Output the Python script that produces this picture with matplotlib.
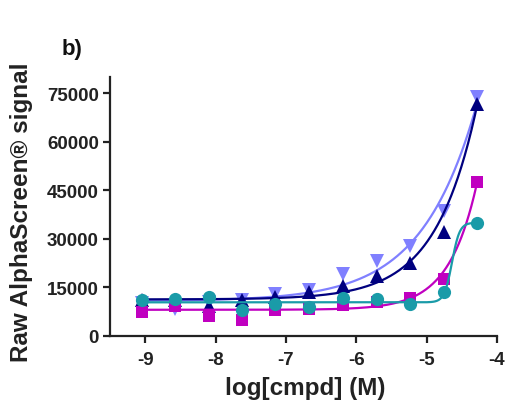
import numpy as np
import matplotlib
matplotlib.use("Agg")
import matplotlib.pyplot as plt

plt.rcParams['font.family'] = ['Liberation Sans', 'DejaVu Sans']
plt.rcParams['font.weight'] = 'bold'

# log10 concentration (M)
log_conc = [-9.05, -8.58, -8.10, -7.62, -7.15, -6.67, -6.19, -5.71, -5.24, -4.76, -4.28]

# Raw AlphaScreen signal per compound series
sig_lightblue = [10200, 8300, 10500, 11000, 12900, 14300, 19100, 23200, 27900, 38700, 73800]
sig_navy = [11200, 11000, 9400, 11200, 11900, 13700, 15500, 18400, 22700, 32000, 71600]
sig_magenta = [7300, 9400, 6100, 5000, 8100, 8300, 9600, 10400, 11600, 17600, 47600]
sig_teal = [11100, 11400, 12200, 8100, 9900, 8900, 11700, 11400, 9900, 13500, 34900]

# four-parameter logistic fit parameters: bottom, top, logEC50, hill
fit_lightblue = (10800, 1.36e6, -2.0, 0.58)
fit_navy = (11300, 3.16e6, -2.0, 0.75)
fit_magenta = (8100, 3.64e6, -2.5, 1.1)
fit_teal = (10400, 35000, -4.64, 8.0)

x_ticks = [-9, -8, -7, -6, -5, -4]
y_ticks = [0, 15000, 30000, 45000, 60000, 75000]


def four_pl(x, bottom, top, logec50, hill):
    return bottom + (top - bottom) / (1 + 10 ** ((logec50 - x) * hill))


fig = plt.figure(figsize=(5.1, 4.1), dpi=100)
ax = fig.add_axes([110 / 510, 73 / 410, 387 / 510, 259 / 410])

series = [
    (sig_lightblue, fit_lightblue, '#8080ff', 'v', 9.5),
    (sig_navy, fit_navy, '#00007f', '^', 9.5),
    (sig_magenta, fit_magenta, '#c000c0', 's', 8.5),
    (sig_teal, fit_teal, '#1a9ba8', 'o', 9.5),
]

xs = np.linspace(min(log_conc), max(log_conc), 400)
for i, (vals, fit, col, mk, ms) in enumerate(series):
    ax.plot(xs, four_pl(xs, *fit), color=col, lw=1.6, zorder=2 + i * 2, clip_on=False)
    ax.plot(log_conc, vals, linestyle='none', marker=mk, color=col, ms=ms,
            markeredgewidth=0, zorder=3 + i * 2, clip_on=False)

ax.set_xlim(-9.5, -4)
ax.set_ylim(0, 80000)
ax.set_xticks(x_ticks)
ax.set_xticklabels([str(t) for t in x_ticks])
ax.set_yticks(y_ticks)
ax.set_yticklabels([str(t) for t in y_ticks])
for s in ['top', 'right']:
    ax.spines[s].set_visible(False)
for s in ['left', 'bottom']:
    ax.spines[s].set_linewidth(1.6)
    ax.spines[s].set_color('#222222')
ax.tick_params(axis='both', direction='out', length=5, width=1.6, colors='#222222',
               labelsize=13.5, labelcolor='#222222')
ax.tick_params(axis='x', pad=6)
ax.tick_params(axis='y', pad=3)
for lab in ax.get_xticklabels() + ax.get_yticklabels():
    lab.set_fontweight('bold')

fig.text(305 / 510, 1 - 389 / 410, 'log[cmpd] (M)', ha='center', va='center',
         fontsize=17.5, fontweight='bold', color='#222222')
fig.text(22 / 510, 1 - 212 / 410, 'Raw AlphaScreen® signal', ha='center', va='center',
         rotation=90, fontsize=17.5, fontweight='bold', color='#222222')
fig.text(62 / 510, 1 - 50 / 410, 'b)', ha='left', va='center', fontsize=16,
         fontweight='bold', color='#111111')

fig.savefig('out.png', dpi=100)
